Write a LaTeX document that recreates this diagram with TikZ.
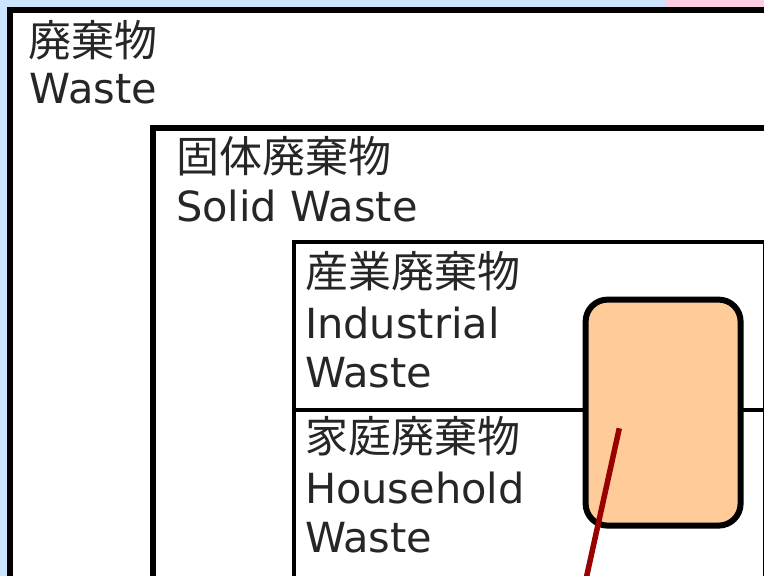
\documentclass[tikz,border=0pt]{standalone}
\usepackage{fontspec}
\setmainfont{DejaVu Sans}
\newfontfamily\jp{Noto Sans CJK JP}
\definecolor{bgblue}{HTML}{CCE5FF}
\definecolor{bgpink}{HTML}{FFCCE5}
\definecolor{peach}{HTML}{FFCC99}
\definecolor{darkred}{HTML}{990000}
\definecolor{txt}{HTML}{262626}
\begin{document}
\begin{tikzpicture}[x=1pt,y=-1pt,
  jplabel/.style={anchor=base west, inner sep=0pt, outer sep=0pt, text=txt, font=\jp\fontsize{43}{48}\selectfont},
  enlabel/.style={anchor=base west, inner sep=0pt, outer sep=0pt, text=txt, font=\fontsize{41.5}{48}\selectfont},
  heavybox/.style={draw=black, line width=6pt},
  lightbox/.style={draw=black, line width=4.5pt},
  blobbox/.style={draw=black, fill=peach, line width=6pt, rounded corners=22pt, inner sep=0pt, minimum width=155pt, minimum height=226pt},
  pointer/.style={draw=darkred, line width=5.5pt}]
\useasboundingbox (0,0) rectangle (764,576);
\clip (0,0) rectangle (764,576);
% background
\fill[bgblue] (0,0) rectangle (665,576);
\fill[bgpink] (665,0) rectangle (764,576);
% nested boxes
\draw[heavybox, fill=white] (9.5,9.5) rectangle (800,578.5);
\draw[heavybox] (152.5,127.5) rectangle (790,578.5);
\draw[lightbox] (294,242) rectangle (765,410);
\draw[lightbox] (294,410) rectangle (765,578);
% labels
\node[jplabel] (w1) at (28,56) {廃棄物};
\node[enlabel] (w2) at (30,103) {Waste};
\node[jplabel] (s1) at (176,172) {固体廃棄物};
\node[enlabel] (s2) at (176,221) {Solid Waste};
\node[jplabel] (i1) at (305,287) {産業廃棄物};
\node[enlabel] (i2) at (305,338) {Industrial};
\node[enlabel] (i3) at (305,387) {Waste};
\node[jplabel] (h1) at (305,452) {家庭廃棄物};
\node[enlabel] (h2) at (305,503) {Household};
\node[enlabel] (h3) at (305,552) {Waste};
% rounded box and pointer
\node[blobbox] (blob) at (663.1,412.6) {};
\coordinate (rtip) at (619.3,428.3);
\coordinate (rtail) at (582.3,596);
\draw[pointer] (rtip) -- (rtail);
\end{tikzpicture}
\end{document}
